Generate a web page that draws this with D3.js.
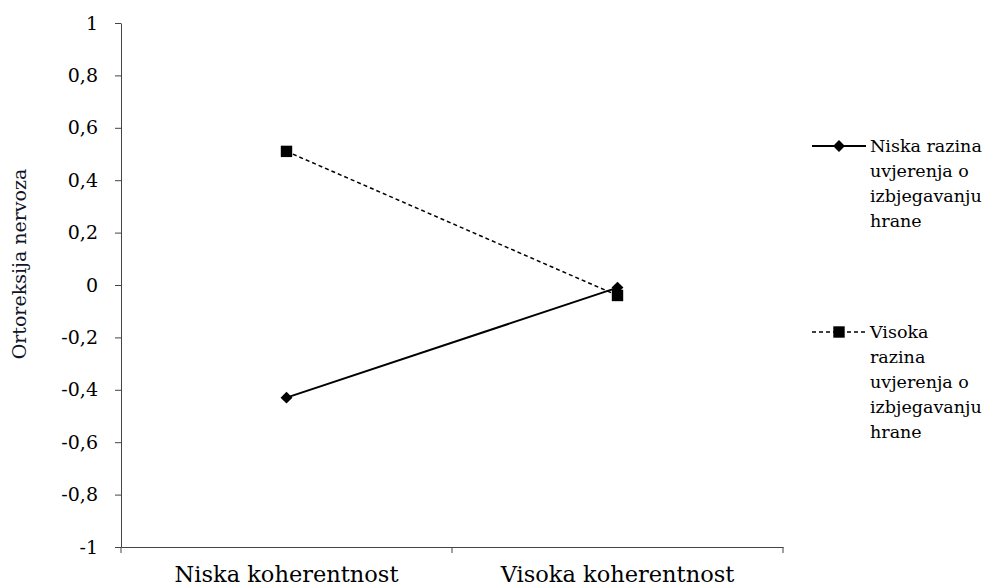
<!DOCTYPE html>
<html>
<head>
<meta charset="utf-8">
<script src="https://cdn.jsdelivr.net/npm/d3@7"></script>
<style>
  body { margin: 0; background: #fff; }
  svg text { fill: #000; }
</style>
</head>
<body>
<div class="container"></div>
<script>
const categories = ['Niska koherentnost', 'Visoka koherentnost']
const niskaRazina = [-0.43, -0.01]
const visokaRazina = [0.51, -0.04]
const yTicks = [1, 0.8, 0.6, 0.4, 0.2, 0, -0.2, -0.4, -0.6, -0.8, -1]
const legendNiska = ['Niska razina', 'uvjerenja o', 'izbjegavanju', 'hrane']
const legendVisoka = ['Visoka', 'razina', 'uvjerenja o', 'izbjegavanju', 'hrane']

const font = '"DejaVu Serif", "Times New Roman", serif'

const w = 984
const h = 588
const padLeft = 121
const padRight = 783
const padTop = 23
const padBottom = 547

const svg = d3.select('.container')
  .append('svg')
  .attr('width', w)
  .attr('height', h)
  .style('font-family', font)

const xScale = d3.scaleBand()
  .domain(categories)
  .range([padLeft, padRight])

const yScale = d3.scaleLinear()
  .domain([-1, 1])
  .range([padBottom, padTop])

const fmt = d => String(d).replace('.', ',')

// y axis
const yAxis = svg.append('g')
  .attr('transform', `translate(${padLeft}, 0)`)
  .call(d3.axisLeft(yScale).tickValues(yTicks).tickFormat(fmt).tickSize(6).tickSizeOuter(0))
  .attr('font-family', font)
yAxis.select('.domain').attr('stroke', '#444')
yAxis.selectAll('.tick line').attr('stroke', '#444')
yAxis.selectAll('.tick text')
  .attr('x', -23)
  .attr('font-size', 19)

// x axis
const xAxis = svg.append('g')
  .attr('transform', `translate(0, ${padBottom})`)
  .call(d3.axisBottom(xScale).tickSize(0).tickSizeOuter(0))
  .attr('font-family', font)
xAxis.select('.domain').attr('stroke', '#444')
xAxis.selectAll('.tick text')
  .attr('y', 35)
  .attr('dy', null)
  .attr('font-size', 22.5)
// band boundary ticks
xAxis.selectAll('.bound')
  .data([padLeft, (padLeft + padRight) / 2, padRight])
  .enter()
  .append('line')
  .attr('x1', d => d).attr('x2', d => d)
  .attr('y1', 0).attr('y2', 6)
  .attr('stroke', '#444')

// y title
svg.append('text')
  .text('Ortoreksija nervoza')
  .attr('transform', 'translate(26, 264) rotate(-90)')
  .attr('text-anchor', 'middle')
  .attr('font-family', font)
  .attr('font-size', 19)
  .style('fill', '#0f1526')

const cx = c => xScale(c) + xScale.bandwidth() / 2

const line = d3.line()
  .x((d, i) => cx(categories[i]))
  .y(d => yScale(d))

// visoka (dashed, squares)
svg.append('path')
  .datum(visokaRazina)
  .attr('d', line)
  .attr('fill', 'none')
  .attr('stroke', '#000')
  .attr('stroke-width', 1.5)
  .attr('stroke-dasharray', '4,3')

// niska (solid, diamonds)
svg.append('path')
  .datum(niskaRazina)
  .attr('d', line)
  .attr('fill', 'none')
  .attr('stroke', '#000')
  .attr('stroke-width', 2)

const diamond = d3.symbol().type(d3.symbolDiamond2).size(90)
const square = d3.symbol().type(d3.symbolSquare).size(130)

svg.selectAll('.pt-niska')
  .data(niskaRazina)
  .enter()
  .append('path')
  .attr('d', diamond)
  .attr('transform', (d, i) => `translate(${cx(categories[i])}, ${yScale(d)})`)
  .attr('fill', '#000')

svg.selectAll('.pt-visoka')
  .data(visokaRazina)
  .enter()
  .append('path')
  .attr('d', square)
  .attr('transform', (d, i) => `translate(${cx(categories[i])}, ${yScale(d)})`)
  .attr('fill', '#000')

// legend
function legend(y0, lines, dashed, sym) {
  const g = svg.append('g')
  g.append('line')
    .attr('x1', 812).attr('x2', 866)
    .attr('y1', y0).attr('y2', y0)
    .attr('stroke', '#000')
    .attr('stroke-width', dashed ? 1.5 : 2)
    .attr('stroke-dasharray', dashed ? '4,3' : null)
  g.append('path')
    .attr('d', sym)
    .attr('transform', `translate(839, ${y0})`)
    .attr('fill', '#000')
  g.selectAll('text')
    .data(lines)
    .enter()
    .append('text')
    .text(d => d)
    .attr('x', 870)
    .attr('y', (d, i) => y0 + 6 + i * 25)
    .attr('font-family', font)
    .attr('font-size', 17.5)
}
legend(146, legendNiska, false, diamond)
legend(332, legendVisoka, true, square)
</script>
</body>
</html>
